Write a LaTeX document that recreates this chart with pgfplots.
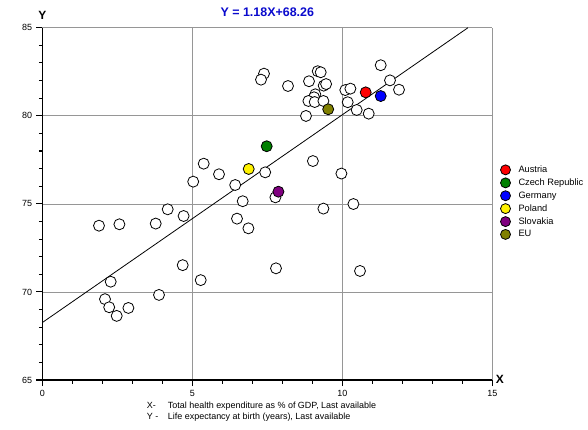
\documentclass[border=0pt]{standalone}
\usepackage{fontspec}
\setmainfont{Liberation Sans}
\usepackage{pgfplots}
\pgfplotsset{compat=1.18}

\definecolor{gridgray}{RGB}{150,150,150}
\definecolor{titleblue}{RGB}{10,10,205}
\definecolor{czgreen}{RGB}{0,128,0}
\definecolor{skpurple}{RGB}{128,0,128}
\definecolor{euolive}{RGB}{128,128,0}

\begin{document}
\begin{tikzpicture}
\useasboundingbox (-42.3bp,-50bp) rectangle (545.7bp,380bp);
\begin{axis}[
    scale only axis,
    width=450bp, height=352.3bp,
    xmin=0, xmax=15, ymin=65, ymax=85,
    axis x line*=bottom, axis y line*=left,
    axis line style={-, black, line width=1.5bp},
    xtick={0,5,10,15}, ytick={65,70,75,80,85},
    minor xtick={1,2,3,4,6,7,8,9,11,12,13,14},
    minor ytick={66,67,68,69,71,72,73,74,76,77,78,79,81,82,83,84},
    tick pos=left,
    tick align=outside,
    major tick length=6bp, minor tick length=3.5bp,
    major tick style={black, line width=1.1bp},
    minor tick style={black, line width=1.1bp},
    grid=major,
    grid style={gridgray, line width=0.6bp},
    ticklabel style={font=\fontsize{9}{10}\selectfont},
    /pgf/number format/assume math mode=true,
    xticklabel style={inner sep=0pt, anchor=north, yshift=-4bp},
    yticklabel style={inner sep=0pt, anchor=east, xshift=-4bp},
    title={Y = 1.18X+68.26},
    every axis title/.style={at={(axis description cs:0.5,1)}, anchor=base, yshift=11.2bp,
        inner sep=0pt, text=titleblue, font=\fontsize{12.5}{14}\selectfont\bfseries},
    every axis x label/.style={at={(axis description cs:1,0)}, anchor=base west,
        inner sep=0pt, xshift=3.4bp, yshift=-3.3bp, font=\fontsize{12}{14}\selectfont\bfseries},
    every axis y label/.style={at={(axis description cs:0,1)}, anchor=base,
        inner sep=0pt, yshift=8.4bp, font=\fontsize{12}{14}\selectfont\bfseries},
    xlabel={X}, ylabel={Y},
    legend cell align=left,
    legend image code/.code={\draw[#1, mark size=5bp] plot coordinates {(0bp,0bp)};},
    legend style={at={(axis description cs:1.0178,0.6143)}, anchor=north west,
        draw=none, fill=none, inner sep=0pt, row sep=0.8bp,
        font=\fontsize{9.3}{10}\selectfont,
        /tikz/every odd column/.append style={column sep=6bp}},
    clip=false
]
\addplot[black, line width=0.8bp, no marks, forget plot] coordinates {(0,68.26) (14.19,85)};

\addplot[only marks, mark=*, mark size=5.5bp,
    mark options={fill=white, draw=black, line width=0.8bp}, forget plot] table {
x y
1.89 73.76
2.57 73.84
3.78 73.88
4.18 74.69
4.71 74.31
4.68 71.52
2.28 70.58
3.89 69.83
2.09 69.59
2.23 69.13
2.87 69.09
2.48 68.64
5.03 76.26
5.28 70.67
5.38 77.28
5.89 76.68
7.43 76.79
6.43 76.07
6.68 75.15
7.77 75.37
9.02 77.43
9.97 76.72
9.37 74.73
6.49 74.16
6.87 73.61
7.79 71.34
10.37 74.99
10.59 71.19
7.39 82.39
7.29 82.05
8.19 81.69
8.89 81.96
9.18 82.53
9.28 82.47
9.38 81.71
9.46 81.80
9.10 81.22
9.06 81.05
8.87 80.84
9.08 80.78
9.37 80.84
8.79 79.99
10.10 81.46
10.27 81.54
10.18 80.77
10.48 80.33
10.88 80.12
11.28 82.87
11.59 82.01
11.89 81.48
};

\addplot[only marks, mark=*, mark size=5.5bp, mark options={fill=red, draw=black, line width=0.8bp}]
    coordinates {(10.78,81.33)};
\addlegendentry{Austria}
\addplot[only marks, mark=*, mark size=5.5bp, mark options={fill=czgreen, draw=black, line width=0.8bp}]
    coordinates {(7.48,78.27)};
\addlegendentry{Czech Republic}
\addplot[only marks, mark=*, mark size=5.5bp, mark options={fill=blue, draw=black, line width=0.8bp}]
    coordinates {(11.28,81.12)};
\addlegendentry{Germany}
\addplot[only marks, mark=*, mark size=5.5bp, mark options={fill=yellow, draw=black, line width=0.8bp}]
    coordinates {(6.88,76.98)};
\addlegendentry{Poland}
\addplot[only marks, mark=*, mark size=5.5bp, mark options={fill=skpurple, draw=black, line width=0.8bp}]
    coordinates {(7.87,75.69)};
\addlegendentry{Slovakia}
\addplot[only marks, mark=*, mark size=5.5bp, mark options={fill=euolive, draw=black, line width=0.8bp}]
    coordinates {(9.53,80.37)};
\addlegendentry{EU}

\node[anchor=base west, inner sep=0pt, font=\fontsize{9}{10}\selectfont]
    at (axis description cs:0.232,-0.0795) {X-};
\node[anchor=base west, inner sep=0pt, font=\fontsize{9}{10}\selectfont]
    at (axis description cs:0.2787,-0.0795) {Total health expenditure as \% of GDP, Last available};
\node[anchor=base west, inner sep=0pt, font=\fontsize{9}{10}\selectfont]
    at (axis description cs:0.232,-0.1107) {Y -};
\node[anchor=base west, inner sep=0pt, font=\fontsize{9}{10}\selectfont]
    at (axis description cs:0.2787,-0.1107) {Life expectancy at birth (years), Last available};
\end{axis}
\end{tikzpicture}
\end{document}
